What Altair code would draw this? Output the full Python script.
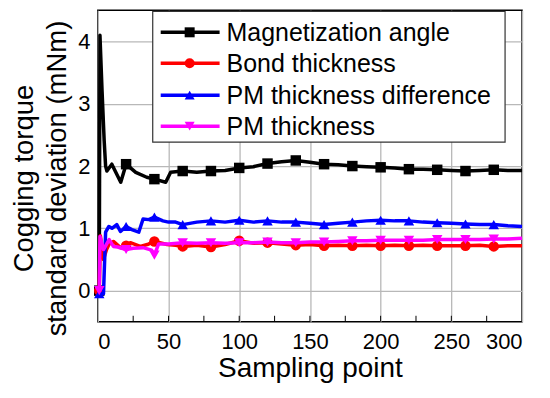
import altair as alt
import pandas as pd

SERIES = ["Magnetization angle", "Bond thickness", "PM thickness difference", "PM thickness"]
COLORS = ["#000000", "#ff0000", "#0000ff", "#ff00ff"]
SHAPES = ["square", "circle", "triangle-up", "triangle-down"]

MAG_X = [1, 1.5, 3, 4.5, 5.5, 6.4, 9.9, 12.7, 16.2, 20, 26.8, 34.6, 40, 48, 51.5,
         60, 70, 80, 90, 100, 110, 120, 130, 140, 150, 160, 170, 180, 190, 200,
         210, 220, 230, 240, 250, 260, 270, 280, 290, 300]
MAG_Y = [0, 4.1, 3.2, 2.4, 2.0, 1.92, 2.03, 1.9, 1.74, 2.03, 1.9, 1.82, 1.79, 1.74, 1.9,
         1.92, 1.9, 1.92, 1.93, 1.97, 1.99, 2.04, 2.07, 2.09, 2.06, 2.03, 2.02, 2.0, 1.99, 1.98,
         1.97, 1.95, 1.95, 1.94, 1.93, 1.92, 1.93, 1.94, 1.93, 1.93]

BOND_X = [1, 1.8, 4, 6, 8, 11, 16, 20, 23, 30, 35, 40, 49, 55,
          60, 70, 80, 90, 100, 110, 120, 130, 140, 150, 160, 170, 180, 190, 200,
          210, 220, 230, 240, 250, 260, 270, 280, 290, 300]
BOND_Y = [0, 0.88, 0.5, 0.65, 0.75, 0.79, 0.69, 0.72, 0.77, 0.71, 0.74, 0.79, 0.74, 0.73,
          0.71, 0.73, 0.7, 0.74, 0.8, 0.76, 0.77, 0.75, 0.73, 0.74, 0.72, 0.73, 0.72, 0.73, 0.72,
          0.73, 0.72, 0.73, 0.72, 0.72, 0.72, 0.73, 0.71, 0.72, 0.72]

PMD_X = [1, 4, 5.5, 7.8, 10, 13.4, 16, 20, 24, 29, 32, 36, 40, 46, 50, 55,
         60, 70, 80, 90, 100, 110, 120, 130, 140, 150, 160, 170, 180, 190, 200,
         210, 220, 230, 240, 250, 260, 270, 280, 290, 300]
PMD_Y = [-0.05, -0.05, 0.94, 1.03, 1.0, 1.06, 0.95, 1.03, 0.98, 0.94, 1.15, 1.14, 1.18, 1.12, 1.1, 1.1,
         1.06, 1.1, 1.12, 1.1, 1.13, 1.1, 1.12, 1.1, 1.1, 1.08, 1.06, 1.08, 1.1, 1.12, 1.13,
         1.12, 1.12, 1.1, 1.09, 1.08, 1.07, 1.06, 1.06, 1.04, 1.03]

PMT_X = [1, 1.5, 4, 8, 11, 14, 20, 25, 32, 38, 40, 43, 50,
         60, 70, 80, 90, 100, 110, 120, 130, 140, 150, 160, 170, 180, 190, 200,
         210, 220, 230, 240, 250, 260, 270, 280, 290, 300]
PMT_Y = [0, 0.87, 0.66, 0.82, 0.71, 0.7, 0.66, 0.68, 0.69, 0.65, 0.57, 0.75, 0.75,
         0.77, 0.76, 0.77, 0.76, 0.77, 0.77, 0.78, 0.77, 0.77, 0.78, 0.78, 0.79, 0.8, 0.8, 0.81,
         0.81, 0.81, 0.81, 0.82, 0.82, 0.82, 0.82, 0.83, 0.83, 0.84]

MARK_X = [1, 20, 40, 60, 80, 100, 120, 140, 160, 180, 200, 220, 240, 260, 280]
X_TICKS = [0, 50, 100, 150, 200, 250, 300]
X_MINOR = [25, 50, 75, 100, 125, 150, 175, 200, 225, 250, 275]
Y_TICKS = [0, 1, 2, 3, 4]

DATA = [(MAG_X, MAG_Y), (BOND_X, BOND_Y), (PMD_X, PMD_Y), (PMT_X, PMT_Y)]

W, H = 425, 312
FONT = "Liberation Sans"

X = alt.X("x:Q", scale=alt.Scale(domain=[0, 300], nice=False, zero=False),
          axis=alt.Axis(values=X_TICKS, title="Sampling point", labelPadding=10,
                        titleFontSize=28, titleY=55, titleBaseline="alphabetic"))
Y = alt.Y("y:Q", scale=alt.Scale(domain=[-0.5, 4.5], nice=False, zero=False),
          axis=alt.Axis(values=Y_TICKS, title=["Cogging torque", "standard deviation (mNm)"],
                        labelPadding=8, titleFontSize=27.5, titleAngle=270, titleX=-87,
                        titleY=168, titleBaseline="top", titleAlign="center",
                        titleLineHeight=33))

layers = []
for name, color, shape, (xs, ys) in zip(SERIES, COLORS, SHAPES, DATA):
    df = pd.DataFrame({"x": xs, "y": ys, "i": range(len(xs))})
    line = alt.Chart(df).mark_line(color=color, strokeWidth=3.5, strokeJoin="round").encode(
        x=X, y=Y, order="i:Q")
    pts = alt.Chart(df[df["x"].isin(MARK_X)]).mark_point(
        shape=shape, filled=True, color=color, size=110, opacity=1).encode(x=X, y=Y)
    layers += [line, pts]

tick_df = pd.DataFrame({"x": X_MINOR})
ticks = alt.Chart(tick_df).mark_rule(color="black", strokeWidth=1).encode(
    x=X, y=alt.value(H), y2=alt.value(H - 6))

one = pd.DataFrame({"k": [0]})
legend = [alt.Chart(one).mark_rect(fill="white", stroke="#333333", strokeWidth=1.2).encode(
    x=alt.value(55), x2=alt.value(408), y=alt.value(1), y2=alt.value(132))]
ROWS = [22, 53, 85, 116]
for name, color, shape, ry in zip(SERIES, COLORS, SHAPES, ROWS):
    legend.append(alt.Chart(one).mark_rule(color=color, strokeWidth=3.5).encode(
        x=alt.value(63), x2=alt.value(122), y=alt.value(ry)))
    legend.append(alt.Chart(one).mark_point(shape=shape, filled=True, color=color,
                                            size=100, opacity=1).encode(
        x=alt.value(92), y=alt.value(ry)))
    legend.append(alt.Chart(one).mark_text(align="left", baseline="middle", font=FONT,
                                           fontSize=25, color="black").encode(
        x=alt.value(129), y=alt.value(ry + 1), text=alt.value(name)))

chart = alt.layer(*layers, ticks, *legend).properties(
    width=W, height=H,
    autosize=alt.AutoSizeParams(type="none"),
    padding={"left": 90, "top": 2, "right": 20, "bottom": 68},
).configure_view(stroke="black", strokeWidth=1.5).configure_axis(
    grid=True, gridColor="#b8b8b8", gridWidth=1.3, domain=False, ticks=False, tickSize=0,
    labelFont=FONT, labelFontSize=22, labelColor="black",
    titleFont=FONT, titleColor="black", titleFontWeight="normal")

chart.save("out.html", embed_options={"renderer": "svg", "actions": False})
